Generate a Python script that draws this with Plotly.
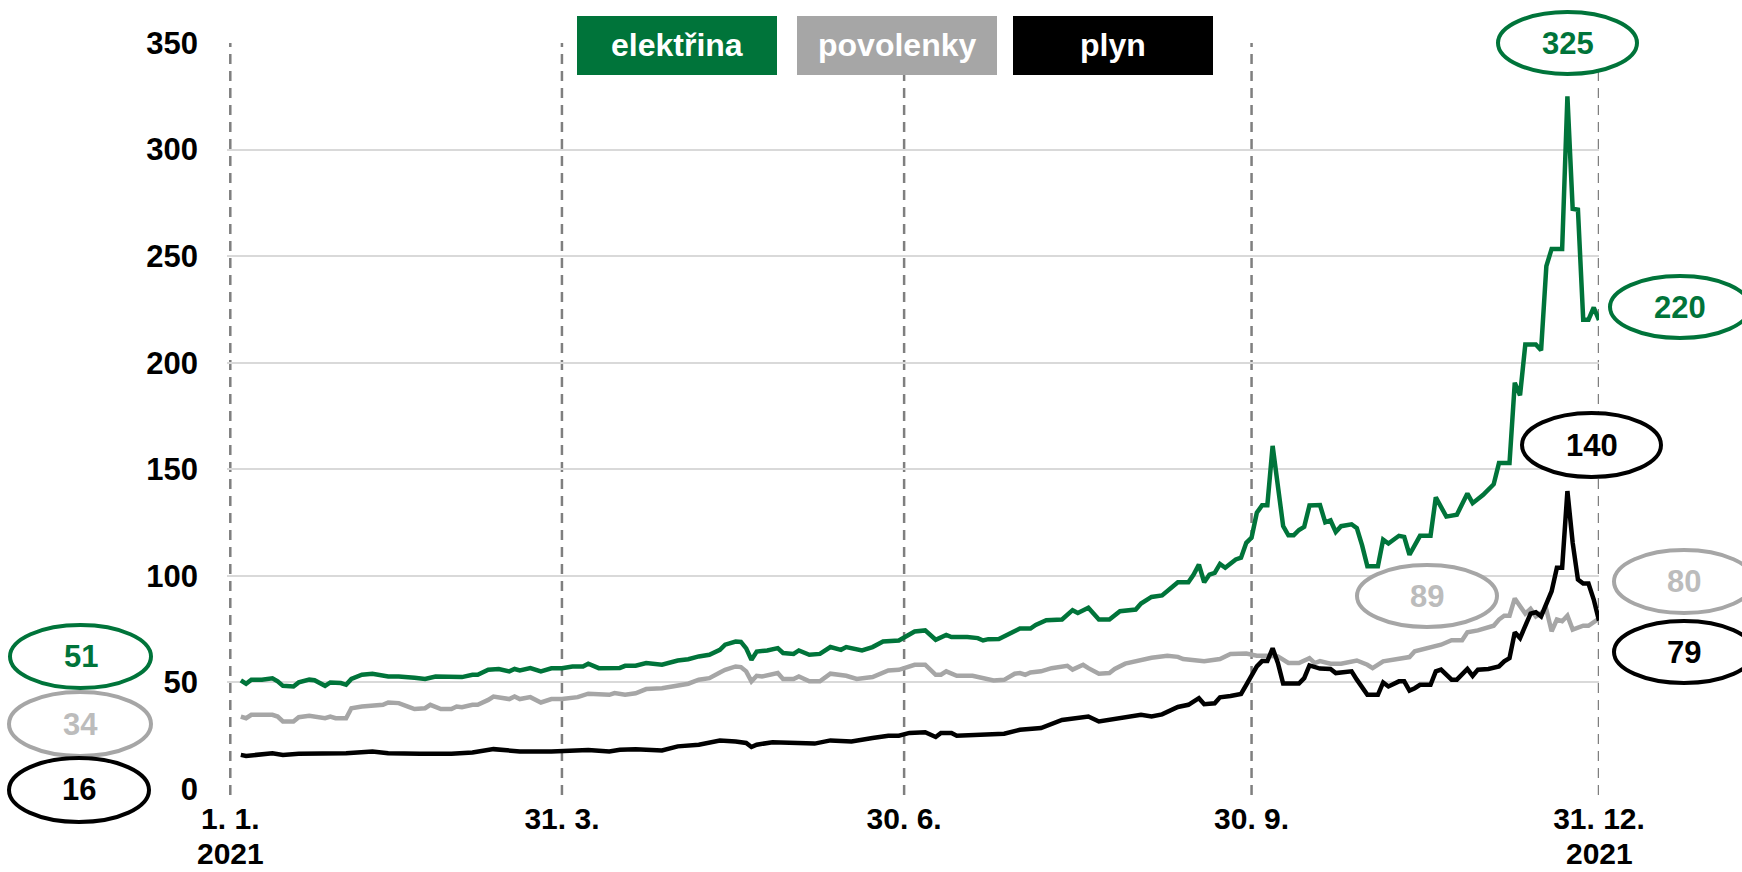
import plotly.graph_objects as go

# ---------------- data ----------------
elec_dates = ["2021-01-05","2021-01-06","2021-01-07","2021-01-11","2021-01-13","2021-01-14","2021-01-15","2021-01-19","2021-01-20","2021-01-22",
"2021-01-25","2021-01-27","2021-01-28","2021-02-01","2021-02-02","2021-02-03","2021-02-05","2021-02-09","2021-02-12","2021-02-16",
"2021-02-19","2021-02-23","2021-02-25","2021-03-01","2021-03-04","2021-03-08","2021-03-09","2021-03-11","2021-03-15","2021-03-17",
"2021-03-18","2021-03-19","2021-03-23","2021-03-25","2021-03-29","2021-03-31","2021-04-02","2021-04-06","2021-04-07","2021-04-09",
"2021-04-13","2021-04-15","2021-04-16","2021-04-20","2021-04-22","2021-04-27","2021-04-30","2021-05-04","2021-05-06","2021-05-10",
"2021-05-12","2021-05-13","2021-05-17","2021-05-18","2021-05-19","2021-05-20","2021-05-21","2021-05-25","2021-05-27","2021-05-28",
"2021-06-01","2021-06-02","2021-06-04","2021-06-08","2021-06-10","2021-06-14","2021-06-15","2021-06-17","2021-06-18","2021-06-22",
"2021-06-24","2021-06-29","2021-07-01","2021-07-02","2021-07-06","2021-07-08","2021-07-12","2021-07-13","2021-07-16","2021-07-20",
"2021-07-21","2021-07-22","2021-07-26","2021-07-28","2021-07-30","2021-08-03","2021-08-04","2021-08-06","2021-08-11","2021-08-13",
"2021-08-16","2021-08-18","2021-08-20","2021-08-24","2021-08-26","2021-08-31","2021-09-01","2021-09-03","2021-09-07","2021-09-10",
"2021-09-14","2021-09-15","2021-09-16","2021-09-17","2021-09-20","2021-09-21","2021-09-22","2021-09-23","2021-09-27","2021-09-28",
"2021-09-29","2021-09-30","2021-10-01","2021-10-04","2021-10-05","2021-10-06","2021-10-08","2021-10-11","2021-10-12","2021-10-13",
"2021-10-14","2021-10-15","2021-10-19","2021-10-20","2021-10-21","2021-10-22","2021-10-25","2021-10-27","2021-10-28","2021-10-29",
"2021-11-01","2021-11-03","2021-11-04","2021-11-05","2021-11-09","2021-11-10","2021-11-11","2021-11-15","2021-11-17","2021-11-18",
"2021-11-22","2021-11-24","2021-11-26","2021-11-29","2021-12-01","2021-12-03","2021-12-06","2021-12-08","2021-12-09","2021-12-10",
"2021-12-13","2021-12-15","2021-12-16","2021-12-17","2021-12-20","2021-12-22","2021-12-23","2021-12-24","2021-12-27","2021-12-28",
"2021-12-29","2021-12-30","2021-12-31"]
elec_values = [51,49.4,51.3,51.3,51.9,50.5,48.4,48.1,50,51.3,
51,48.4,50,49.7,48.9,51.6,53.6,54.1,52.8,52.8,
52.2,51.6,52.8,52.5,52.5,53.6,53.6,56,56.3,55.2,
56.3,55.6,56.7,55.2,56.6,56.7,57.5,57.5,58.8,56.7,
56.7,56.8,57.8,57.8,59.1,58.3,60.3,60.9,62.2,63,
65.3,67.7,69.2,69,66,60.6,64.5,65,66.1,63.8,
63.4,65,63,63.4,66.6,65.3,66.6,65.3,65,66.6,
69.2,69.7,72.3,73.9,74.4,70,72.3,71.3,71.3,70.8,
69.7,70.3,70.4,72.8,75.3,75.3,77,79.2,79.5,83.9,
82.6,85,79.5,79.5,83.4,84.2,87,90.1,90.8,97,
97,100.6,105.3,97,100.6,101.4,105.6,103.8,107.7,108.5,
115.5,117.9,129.6,133.1,133.1,161,123.4,119,119,121.5,
123,133,133.2,125.1,126,120.6,123.3,124.2,122.4,114.3,
104.5,104.5,117,115.2,118.8,118.3,109.9,118.8,118.8,136.8,
127.8,128.7,138.6,134.1,138,143,152.9,152.9,190.6,184.7,
208.5,208.5,205.8,245.3,253.4,253.4,325,272.2,271.8,220.2,
220.2,225.9,220]

eua_dates = ["2021-01-05","2021-01-06","2021-01-07","2021-01-13","2021-01-14","2021-01-15","2021-01-19","2021-01-20","2021-01-22","2021-01-25",
"2021-01-27","2021-01-28","2021-01-29","2021-02-02","2021-02-03","2021-02-05","2021-02-09","2021-02-11","2021-02-12","2021-02-16",
"2021-02-18","2021-02-19","2021-02-23","2021-02-24","2021-02-26","2021-03-02","2021-03-03","2021-03-04","2021-03-08","2021-03-09",
"2021-03-11","2021-03-12","2021-03-17","2021-03-18","2021-03-19","2021-03-23","2021-03-25","2021-03-29","2021-03-31","2021-04-05",
"2021-04-07","2021-04-09","2021-04-13","2021-04-14","2021-04-15","2021-04-16","2021-04-20","2021-04-22","2021-04-27","2021-04-30",
"2021-05-04","2021-05-06","2021-05-10","2021-05-12","2021-05-13","2021-05-17","2021-05-18","2021-05-19","2021-05-20","2021-05-21",
"2021-05-24","2021-05-27","2021-05-28","2021-06-01","2021-06-02","2021-06-04","2021-06-08","2021-06-10","2021-06-15","2021-06-17",
"2021-06-22","2021-06-25","2021-06-29","2021-07-02","2021-07-06","2021-07-08","2021-07-09","2021-07-12","2021-07-14","2021-07-19",
"2021-07-21","2021-07-23","2021-07-27","2021-07-29","2021-07-30","2021-08-02","2021-08-03","2021-08-05","2021-08-09","2021-08-12",
"2021-08-13","2021-08-17","2021-08-18","2021-08-20","2021-08-24","2021-08-25","2021-08-27","2021-09-01","2021-09-03","2021-09-08",
"2021-09-10","2021-09-13","2021-09-15","2021-09-17","2021-09-22","2021-09-24","2021-09-29","2021-10-01","2021-10-05","2021-10-07",
"2021-10-11","2021-10-13","2021-10-15","2021-10-18","2021-10-19","2021-10-21","2021-10-25","2021-10-28","2021-11-01","2021-11-02",
"2021-11-04","2021-11-09","2021-11-11","2021-11-12","2021-11-16","2021-11-19","2021-11-23","2021-11-25","2021-11-26","2021-11-30",
"2021-12-03","2021-12-06","2021-12-07","2021-12-08","2021-12-09","2021-12-13","2021-12-14","2021-12-15","2021-12-17","2021-12-20",
"2021-12-21","2021-12-22","2021-12-23","2021-12-24","2021-12-28","2021-12-29","2021-12-31"]
eua_values = [34,33.2,34.8,34.8,34,31.7,31.7,33.7,34.3,34,
33.2,34,33.2,33.2,37.9,38.7,39,39.5,40.6,40.3,
38.4,37.5,37.9,39.5,37.5,37.5,38.7,38.4,39.5,39.5,
41.8,43.4,42.2,43.4,42.2,43.1,40.6,42.2,42.2,43.1,
44.7,44.2,44.2,45,44.7,44.2,44.9,46.9,47.3,48.8,
49.4,51.3,52,54.7,55.9,57.5,57.2,55.2,50.5,53.1,
52.8,54.4,51.6,51.6,52.8,50.5,50.5,54.1,53.1,51.6,
52.5,55.6,55.9,58.3,58.3,53.6,53.6,55.2,53.1,53.1,
52,50.9,51.2,54.1,54.4,53.6,54.7,55.2,56.7,57.8,
56,58.3,56.7,54.1,54.4,56.3,58.8,60.3,61.6,62.5,
62,61,60.3,59.9,61,63.3,63.6,62.5,62.5,62.2,
59.1,59.1,61.4,59.1,60,58.8,58.8,60.3,58.3,56.7,
59.9,61,61.9,64.6,65.7,67.7,69.8,69.8,73.5,74.4,
76.6,79.5,81.3,81.3,89.4,82.3,84.5,81,84.2,74,
79.5,78.7,81.3,74.8,76.6,76.6,80]

gas_dates = ["2021-01-05","2021-01-06","2021-01-13","2021-01-15","2021-01-20","2021-01-26","2021-02-02","2021-02-09","2021-02-12","2021-02-22",
"2021-03-02","2021-03-08","2021-03-12","2021-03-19","2021-03-29","2021-04-07","2021-04-13","2021-04-15","2021-04-20","2021-04-27",
"2021-04-30","2021-05-06","2021-05-12","2021-05-17","2021-05-19","2021-05-20","2021-05-21","2021-05-26","2021-06-01","2021-06-07",
"2021-06-10","2021-06-16","2021-06-22","2021-06-25","2021-06-29","2021-07-01","2021-07-06","2021-07-08","2021-07-09","2021-07-13",
"2021-07-14","2021-07-22","2021-07-27","2021-07-30","2021-08-05","2021-08-11","2021-08-18","2021-08-20","2021-08-26","2021-09-01",
"2021-09-03","2021-09-07","2021-09-10","2021-09-14","2021-09-16","2021-09-17","2021-09-21","2021-09-22","2021-09-24","2021-09-28",
"2021-09-29","2021-10-01","2021-10-04","2021-10-05","2021-10-06","2021-10-07","2021-10-08","2021-10-13","2021-10-14","2021-10-15",
"2021-10-19","2021-10-21","2021-10-22","2021-10-27","2021-10-28","2021-11-01","2021-11-03","2021-11-04","2021-11-05","2021-11-09",
"2021-11-10","2021-11-11","2021-11-12","2021-11-15","2021-11-17","2021-11-18","2021-11-19","2021-11-23","2021-11-24","2021-11-26",
"2021-11-29","2021-11-30","2021-12-02","2021-12-06","2021-12-07","2021-12-08","2021-12-09","2021-12-10","2021-12-14","2021-12-15",
"2021-12-16","2021-12-17","2021-12-20","2021-12-21","2021-12-22","2021-12-23","2021-12-24","2021-12-27","2021-12-28","2021-12-29",
"2021-12-30","2021-12-31"]
gas_values = [16,15.5,16.8,16,16.5,16.5,16.8,17.6,16.8,16.5,
16.5,17.1,18.7,17.6,17.6,18.3,17.6,18.4,18.7,18.1,
20,20.8,22.7,22.3,21.6,19.7,20.8,21.9,21.6,21.3,
22.8,22.3,23.9,25,25,26.3,26.6,24.4,26.3,26.3,
25,25.5,25.9,27.8,28.6,32.4,34,31.7,33.2,34.8,
34,35,38.5,39.5,42.6,39.8,40.2,43,43.6,44.6,
48.9,57.5,60,60,66,59.1,49.5,49.5,52,58,
56.5,56.3,54.4,55.2,51.3,44.2,44.2,50,48.1,50.5,
50.5,46.2,47.3,48.9,48.9,55.2,56,51.3,51.3,56.3,
53.1,56,56.3,57.5,59.9,61.4,73.5,70.8,82.3,82.9,
81,87.3,92.8,103.8,103.8,139.8,115.5,98.3,96.4,96.4,
88.9,79]

series_names = ["elektřina", "povolenky", "plyn"]
tick_dates = ["2021-01-01", "2021-03-31", "2021-06-30", "2021-09-30", "2021-12-31"]
tick_labels = ["1. 1.", "31. 3.", "30. 6.", "30. 9.", "31. 12."]
year_label = "2021"
year_label_dates = ["2021-01-01", "2021-12-31"]
y_ticks = [0, 50, 100, 150, 200, 250, 300, 350]

# ---------------- layout helpers ----------------
W, H = 1742, 872
ML, MR, MT, MB = 227, 143, 43, 83
PW, PH = W - ML - MR, H - MT - MB


def px(x):
    return (x - ML) / PW


def py(y):
    return (H - MB - y) / PH


GREEN = "#00743A"
GREY = "#A6A6A6"
GREY_TXT = "#BCBCBC"
BLACK = "#000000"
FONT = "Liberation Sans, Arial, sans-serif"

colors = [GREEN, GREY, BLACK]
data = [(elec_dates, elec_values), (eua_dates, eua_values), (gas_dates, gas_values)]

fig = go.Figure()
for name, (d, v), c in zip(series_names, data, colors):
    fig.add_trace(go.Scatter(x=d, y=v, mode="lines", name=name,
                             line=dict(color=c, width=4.5), showlegend=False))

shapes = []
# dashed vertical reference lines at tick dates
for d in tick_dates:
    shapes.append(dict(type="line", xref="x", yref="paper", x0=d, x1=d,
                       y0=py(795), y1=1.0, layer="below",
                       line=dict(color="#7F7F7F", width=2.5, dash="10px,7px")))

annotations = []
# year under first and last tick
for d in year_label_dates:
    annotations.append(dict(xref="x", yref="paper", x=d, y=py(853),
                            text=year_label, showarrow=False, xanchor="center", yanchor="middle",
                            borderpad=0,
                            font=dict(family=FONT, size=30, color="black", weight="bold")))

# legend boxes
legend_boxes = [(577, 777, GREEN), (797, 997, GREY), (1013, 1213, BLACK)]
for name, (x0, x1, c) in zip(series_names, legend_boxes):
    shapes.append(dict(type="rect", xref="paper", yref="paper",
                       x0=px(x0), x1=px(x1), y0=py(75), y1=py(16),
                       fillcolor=c, line=dict(width=0), layer="above"))
    annotations.append(dict(xref="paper", yref="paper", x=px((x0 + x1) / 2), y=py(45.5),
                            text=name, showarrow=False, xanchor="center", yanchor="middle",
                            font=dict(family=FONT, size=32, color="white", weight="bold")))

# value ellipses (text taken from the data)
labels = [
    (round(elec_values[0]), (10, 151, 625, 688), GREEN, GREEN),
    (round(eua_values[0]), (9, 151, 692, 756), GREY, GREY_TXT),
    (round(gas_values[0]), (9, 149, 758, 822), BLACK, BLACK),
    (round(max(elec_values)), (1498, 1637, 12, 74), GREEN, GREEN),
    (round(elec_values[-1]), (1610, 1750, 276, 338), GREEN, GREEN),
    (round(max(gas_values)), (1522, 1661, 413, 477), BLACK, BLACK),
    (int(max(eua_values)), (1357, 1497, 565, 627), GREY, GREY_TXT),
    (round(eua_values[-1]), (1614, 1754, 550, 613), GREY, GREY_TXT),
    (round(gas_values[-1]), (1614, 1754, 621, 683), BLACK, BLACK),
]
for val, (x0, x1, y0, y1), lc, tc in labels:
    shapes.append(dict(type="circle", xref="paper", yref="paper",
                       x0=px(x0), x1=px(x1), y0=py(y1), y1=py(y0),
                       fillcolor="white", line=dict(color=lc, width=4), layer="above"))
    annotations.append(dict(xref="paper", yref="paper", x=px((x0 + x1) / 2), y=py((y0 + y1) / 2),
                            text=str(val), showarrow=False, xanchor="center", yanchor="middle",
                            font=dict(family=FONT, size=31, color=tc, weight="bold")))

fig.update_layout(
    width=W, height=H,
    margin=dict(l=ML, r=MR, t=MT, b=MB, pad=0),
    paper_bgcolor="white", plot_bgcolor="white",
    showlegend=False,
    shapes=shapes, annotations=annotations,
    font=dict(family=FONT, size=30, color="black"),
    xaxis=dict(type="date", range=["2020-12-31 09:00", "2021-12-31"],
               rangebreaks=[dict(bounds=["sat", "mon"])],
               tickmode="array", tickvals=tick_dates, ticktext=tick_labels,
               showgrid=False, zeroline=False, showline=False, ticks="",
               ticklabelstandoff=9, automargin=False,
               tickfont=dict(family=FONT, size=30, color="black", weight="bold")),
    yaxis=dict(range=[0, 350], tickmode="array", tickvals=y_ticks,
               showgrid=True, gridcolor="#D9D9D9", gridwidth=1.5,
               zeroline=False, showline=False, ticks="",
               ticklabelstandoff=28, automargin=False,
               tickfont=dict(family=FONT, size=31, color="black", weight="bold")),
)

fig.write_html("out.html",
               config={"displayModeBar": False},
               post_script="document.body.style.margin='0px';document.body.style.overflow='hidden';")
